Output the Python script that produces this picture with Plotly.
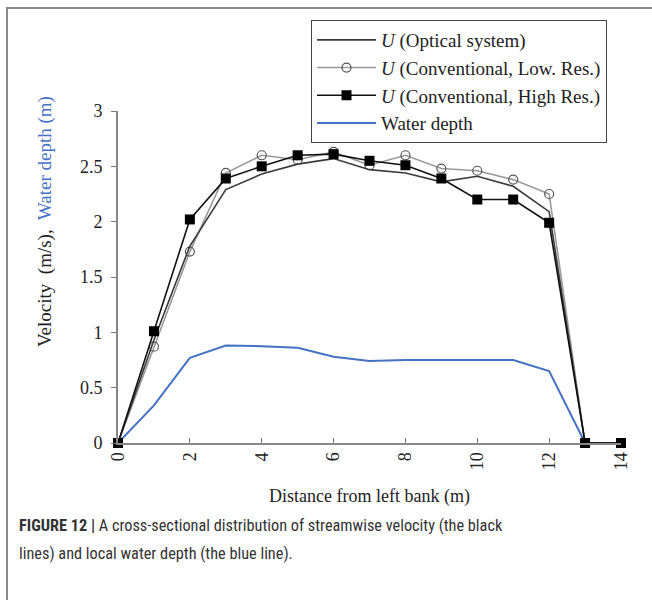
import plotly.graph_objects as go

distance = [0, 1, 2, 3, 4, 5, 6, 7, 8, 9, 10, 11, 12, 13, 14]
u_optical = [0, 0.93, 1.78, 2.29, 2.43, 2.52, 2.57, 2.47, 2.44, 2.36, 2.41, 2.32, 2.09, 0, 0]
u_low_res = [0, 0.87, 1.73, 2.44, 2.60, 2.56, 2.63, 2.51, 2.60, 2.48, 2.46, 2.38, 2.25, 0, 0]
u_high_res = [0, 1.01, 2.02, 2.39, 2.50, 2.60, 2.61, 2.55, 2.51, 2.39, 2.20, 2.20, 1.99, 0, 0]
water_depth = [0, 0.34, 0.77, 0.88, 0.875, 0.86, 0.78, 0.74, 0.75, 0.75, 0.75, 0.75, 0.65, 0, 0]
x_ticks = [0, 2, 4, 6, 8, 10, 12, 14]
y_ticks = [0, 0.5, 1, 1.5, 2, 2.5, 3]

BLUE = "#4472C4"
SERIF = "Liberation Serif, Times New Roman, serif"
CAP_FONT = "Liberation Sans Narrow, Roboto Condensed, Roboto, sans-serif"

# plot area in pixels
L, R, T, B = 118, 621, 111, 443
W, H = 652, 600

def px_x(p):
    return (p - L) / (R - L)

def px_y(p):
    return (B - p) / (B - T)

fig = go.Figure()
fig.add_trace(go.Scatter(
    x=distance, y=water_depth, mode="lines", name="Water depth",
    line=dict(color=BLUE, width=2), cliponaxis=False, legendrank=4))
fig.add_trace(go.Scatter(
    x=distance, y=u_low_res, mode="lines+markers",
    name="<i>U</i> (Conventional, Low. Res.)",
    line=dict(color="#9a9a9a", width=1.6),
    marker=dict(symbol="circle-open", size=9, color="#555555", line=dict(width=1.2)),
    cliponaxis=False, legendrank=2))
fig.add_trace(go.Scatter(
    x=distance, y=u_optical, mode="lines", name="<i>U</i> (Optical system)",
    line=dict(color="#3a3a3a", width=1.6), cliponaxis=False, legendrank=1))
fig.add_trace(go.Scatter(
    x=distance, y=u_high_res, mode="lines+markers",
    name="<i>U</i> (Conventional, High Res.)",
    line=dict(color="#111111", width=1.6),
    marker=dict(symbol="square", size=10, color="#000000"),
    cliponaxis=False, legendrank=3))

fig.update_layout(
    width=W, height=H,
    margin=dict(l=L, r=W - R, t=T, b=H - B),
    paper_bgcolor="white", plot_bgcolor="white",
    font=dict(family=SERIF, color="#222222", size=17),
    showlegend=True,
    legend=dict(
        x=px_x(311), y=px_y(20), xanchor="left", yanchor="top",
        bordercolor="#444444", borderwidth=1, bgcolor="white",
        font=dict(family=SERIF, size=19, color="#222222"),
        itemwidth=59, traceorder="normal",
    ),
    xaxis=dict(
        range=[0, 14], tickvals=x_ticks, ticktext=[str(v) for v in x_ticks],
        tickangle=-90, ticks="inside", ticklen=5, tickcolor="#777777",
        showline=True, linecolor="#888888", linewidth=2, showgrid=False, zeroline=False,
        tickfont=dict(family=SERIF, size=18, color="#222222"),
        title=dict(text="Distance from left bank (m)", standoff=20,
                   font=dict(family=SERIF, size=18, color="#222222")),
    ),
    yaxis=dict(
        range=[0, 3], tickvals=y_ticks, ticktext=["0", "0.5", "1", "1.5", "2", "2.5", "3"],
        ticks="outside", ticklen=5, tickcolor="#777777", ticklabelstandoff=5,
        showline=True, linecolor="#888888", linewidth=2, showgrid=False, zeroline=False,
        tickfont=dict(family=SERIF, size=18, color="#222222"),
    ),
    shapes=[
        dict(type="line", xref="paper", yref="paper",
             x0=px_x(7), y0=px_y(605), x1=px_x(7), y1=px_y(8),
             line=dict(color="#8a8a8a", width=2)),
        dict(type="line", xref="paper", yref="paper",
             x0=px_x(6), y0=px_y(8), x1=px_x(660), y1=px_y(8),
             line=dict(color="#8a8a8a", width=2)),
    ],
    annotations=[
        dict(xref="paper", yref="paper", x=px_x(45), y=px_y(222), xanchor="center", yanchor="middle",
             showarrow=False, textangle=-90,
             text="Velocity&nbsp; (m/s),&nbsp; <span style='color:%s'>Water depth (m)</span>" % BLUE,
             font=dict(family=SERIF, size=19, color="#222222")),
        dict(xref="paper", yref="paper", x=px_x(17), y=px_y(525), xanchor="left", yanchor="middle",
             showarrow=False, align="left",
             text="<b>FIGURE 12 |</b> A cross-sectional distribution of streamwise velocity (the black",
             font=dict(family=CAP_FONT, size=16.3, color="#333333")),
        dict(xref="paper", yref="paper", x=px_x(17), y=px_y(553), xanchor="left", yanchor="middle",
             showarrow=False, align="left",
             text="lines) and local water depth (the blue line).",
             font=dict(family=CAP_FONT, size=16.3, color="#333333")),
    ],
)

fig.write_html("out.html")
